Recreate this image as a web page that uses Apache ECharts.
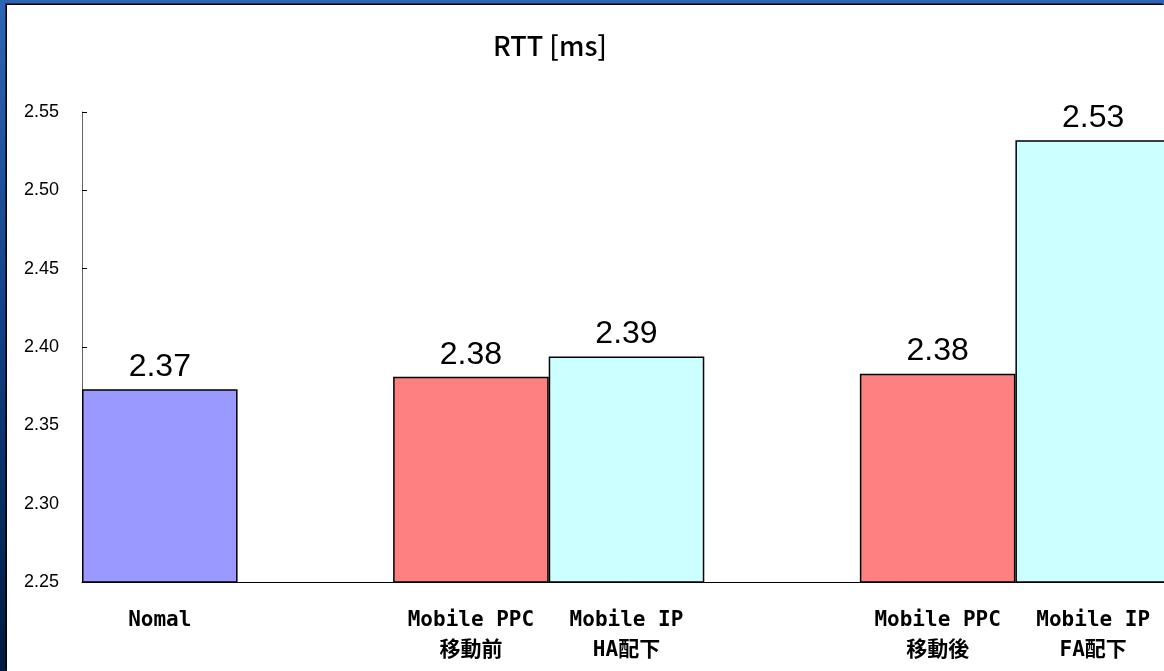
<!DOCTYPE html>
<html>
<head>
<meta charset="utf-8">
<script src="https://cdn.jsdelivr.net/npm/echarts@6/dist/echarts.min.js"></script>
<style>
    html, body { margin: 0; padding: 0; width: 1164px; height: 671px; overflow: hidden; }
    body { background: linear-gradient(to bottom, #2c66b4 0%, #123f85 50%, #011a3d 100%); position: relative; }
    #panel { position: absolute; left: 7px; top: 5px; right: 0; bottom: 0; background: #fff; box-shadow: -1px -1px 0 #000, -2px -2px 0 rgba(0,0,0,0.5); }
    /* chart is a bit wider than the window so the last bar is cut at the edge */
    #chart { position: absolute; left: 0; top: 0; width: 1171px; height: 671px; }
</style>
</head>
<body>
<div id="panel"></div>
<div id="chart"></div>
<script>
// categories ('' = empty gap slot between groups)
const categories = ['Nomal', '', 'Mobile PPC\n移動前', 'Mobile IP\nHA配下', '', 'Mobile PPC\n移動後', 'Mobile IP\nFA配下'];
const rttValues = [2.373, '-', 2.381, 2.394, '-', 2.383, 2.532];
const barColors = ['#9999ff', '#ffffff', '#ff8080', '#ccffff', '#ffffff', '#ff8080', '#ccffff'];
const yTicks = { min: 2.25, max: 2.55, step: 0.05 };

let data = [];
for (let i = 0; i < rttValues.length; i++) {
    data[i] = { value: rttValues[i], itemStyle: { color: barColors[i] } };
}

let myChart = echarts.init(document.getElementById('chart'));
myChart.setOption({
    animation: false,
    backgroundColor: 'transparent',
    title: {
        text: 'RTT [ms]',
        left: 545,
        textAlign: 'center',
        top: 27,
        textStyle: { fontFamily: 'Noto Sans CJK JP', fontWeight: 500, fontSize: 27, color: '#000' }
    },
    grid: { left: 82, top: 112, bottom: 89, right: 0, outerBoundsMode: 'none' },
    xAxis: {
        type: 'category',
        data: categories,
        axisTick: { show: false },
        axisLine: { lineStyle: { color: '#000', width: 1 } },
        axisLabel: {
            interval: 0,
            margin: 24,
            fontFamily: 'DejaVu Sans Mono, Noto Sans CJK JP',
            fontWeight: 'bold',
            fontSize: 21,
            lineHeight: 30,
            color: '#000'
        }
    },
    yAxis: {
        type: 'value',
        min: yTicks.min,
        max: yTicks.max,
        interval: yTicks.step,
        splitLine: { show: false },
        axisLine: { show: true, lineStyle: { color: '#666', width: 1 } },
        axisTick: { show: true, inside: true, length: 5, lineStyle: { color: '#000' } },
        axisLabel: {
            margin: 23,
            fontFamily: 'Liberation Sans',
            fontSize: 18,
            color: '#000',
            formatter: (v) => v.toFixed(2)
        }
    },
    series: [{
        type: 'bar',
        data: data,
        barWidth: '100%',
        barGap: 0,
        itemStyle: { borderColor: '#000', borderWidth: 1.5 },
        label: {
            show: true,
            position: 'top',
            distance: 6,
            fontFamily: 'Liberation Sans',
            fontSize: 32,
            color: '#000',
            formatter: (p) => p.value.toFixed(2)
        }
    }]
});
</script>
</body>
</html>
